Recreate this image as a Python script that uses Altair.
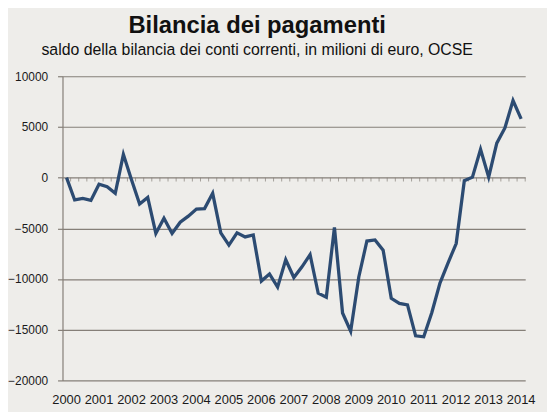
import altair as alt
import pandas as pd

# Quarterly current-account balance, 2000Q1 .. 2014Q1 (millions of euro)
values = [
    0, -2200, -2050, -2250,
    -650, -900, -1550, 2300,
    -200, -2600, -1950, -5500,
    -4000, -5500, -4400, -3800,
    -3100, -3050, -1550, -5450,
    -6650, -5450, -5850, -5650,
    -10200, -9500, -10800, -8100,
    -9850, -8800, -7600, -11400,
    -11800, -4900, -13350, -15150,
    -9800, -6250, -6150, -7150,
    -11900, -12400, -12550, -15600,
    -15700, -13300, -10400, -8400,
    -6500, -300, 50, 2800,
    50, 3400, 4900, 7600,
    5800,
]
years = list(range(2000, 2015))
y_ticks = [-20000, -15000, -10000, -5000, 0, 5000, 10000]

n = len(values)
df = pd.DataFrame({"q": list(range(n)), "v": values})
tick_df = pd.DataFrame({"b": [i - 0.5 for i in range(n + 1)]})
# each year label sits at the first quarter of that year
year_df = pd.DataFrame({"q": [4 * (y - years[0]) for y in years],
                        "label": [str(y) for y in years],
                        "base": [min(y_ticks)] * len(years)})

grid_color = "#857f78"
line_color = "#2c4b72"
font = "Liberation Sans"

xscale = alt.Scale(domain=[-0.5, n - 0.5], nice=False, zero=False)
yscale = alt.Scale(domain=[min(y_ticks), max(y_ticks)], nice=False)

yaxis = alt.Axis(
    values=y_ticks,
    format="d",
    domain=True,
    domainColor=grid_color,
    domainWidth=1.2,
    ticks=True,
    tickColor=grid_color,
    tickSize=5,
    tickWidth=1.2,
    grid=True,
    gridColor=grid_color,
    gridWidth=1.2,
    gridOpacity=1,
    labelFont=font,
    labelFontSize=12,
    labelColor="#1a1a1a",
    labelPadding=10,
    title=None,
)

line = alt.Chart(df).mark_line(color=line_color, strokeWidth=3.3).encode(
    x=alt.X("q:Q", scale=xscale, axis=None),
    y=alt.Y("v:Q", scale=yscale, axis=yaxis),
)

zero_ticks = alt.Chart(tick_df).mark_tick(
    orient="vertical", color=grid_color, size=4, thickness=1, yOffset=2
).encode(
    x=alt.X("b:Q", scale=xscale, axis=None),
    y=alt.datum(0),
)

year_labels = alt.Chart(year_df).mark_text(
    font=font, fontSize=13, color="#1a1a1a", baseline="middle", align="center", dy=20
).encode(
    x=alt.X("q:Q", scale=xscale, axis=None),
    y=alt.Y("base:Q", scale=yscale, axis=yaxis),
    text="label:N",
)

chart = alt.layer(zero_ticks, line, year_labels).properties(
    width=467,
    height=307,
    autosize="none",
    padding={"left": 55, "top": 67, "right": 22, "bottom": 30},
    background="#eeedea",
    title=alt.TitleParams(
        text="Bilancia dei pagamenti",
        subtitle="saldo della bilancia dei conti correnti, in milioni di euro, OCSE",
        font=font,
        fontSize=24,
        fontWeight="bold",
        color="#111111",
        subtitleFont=font,
        subtitleFontSize=16,
        subtitleColor="#111111",
        subtitlePadding=5,
        anchor="middle",
        dx=-37,
        offset=12,
    ),
).configure_view(stroke=None)

chart.save("out.html", embed_options={"renderer": "svg", "actions": False})
